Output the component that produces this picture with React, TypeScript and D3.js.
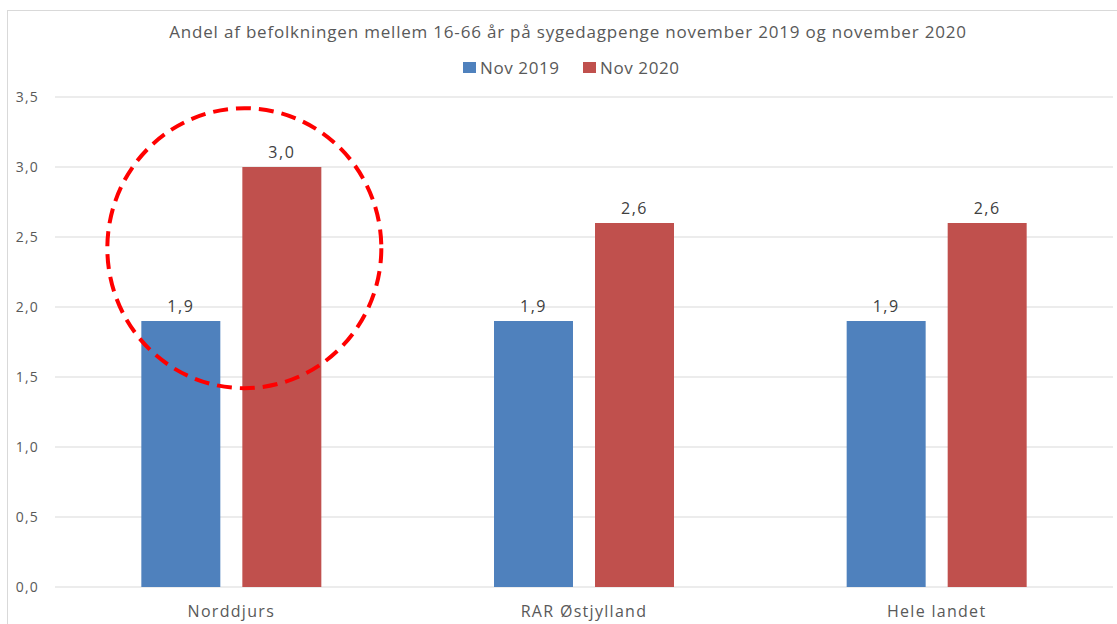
import React from 'react';
import * as d3 from 'd3';

const categories = ['Norddjurs', 'RAR Østjylland', 'Hele landet'];
const seriesNames = ['Nov 2019', 'Nov 2020'];
const nov2019 = [1.9, 1.9, 1.9];
const nov2020 = [3.0, 2.6, 2.6];
const yTicks = [0, 0.5, 1, 1.5, 2, 2.5, 3, 3.5];
const colors = ['#4F81BD', '#C0504D'];
const title = 'Andel af befolkningen mellem 16-66 år på sygedagpenge november 2019 og november 2020';

// highlight ring around Norddjurs, in data units
const ring = { category: 'Norddjurs', value: 2.42, halfSpan: 1.0 };

const W = 1117;
const H = 624;
const font = '"Open Sans", "Noto Sans", sans-serif';

const App = () => {
  const plot = { left: 55, right: 1113, top: 97, bottom: 587 };

  const x0 = d3.scaleBand().domain(categories).range([plot.left, plot.right]).paddingInner(0).paddingOuter(0);
  const x1 = d3.scaleBand().domain(seriesNames).range([-90, 90]).paddingInner(0.218).paddingOuter(0);
  const y = d3.scaleLinear().domain([0, 3.5]).range([plot.bottom, plot.top]);

  const fmt = (v) => d3.format('.1f')(v).replace('.', ',');
  const series = [nov2019, nov2020];

  const ringCx = x0(ring.category) + x0.bandwidth() / 2 + 13;
  const ringCy = y(ring.value);
  const ringRy = y(0) - y(ring.halfSpan);

  return (
    <svg width={W} height={H} style={{ position: 'absolute', left: 0, top: 0, background: '#fff' }}>
      <rect x={7.5} y={10.5} width={W} height={H} fill="#fff" stroke="#d9d9d9" />

      <text x={568} y={38} textAnchor="middle" fontFamily={font} fontSize={17} letterSpacing={0.8} fill="#595959">{title}</text>

      {/* legend */}
      <g fontFamily={font} fontSize={17} letterSpacing={0.6} fill="#595959">
        <rect x={463} y={62} width={13} height={11} fill={colors[0]} />
        <text x={480} y={74}>{seriesNames[0]}</text>
        <rect x={583} y={62} width={13} height={11} fill={colors[1]} />
        <text x={600} y={74}>{seriesNames[1]}</text>
      </g>

      {/* grid + y ticks */}
      {yTicks.map((t) => (
        <g key={t}>
          <line x1={plot.left} x2={plot.right} y1={y(t)} y2={y(t)} stroke="#d9d9d9" strokeWidth={1} />
          <text x={39} y={y(t) + 5} textAnchor="end" fontFamily={font} fontSize={14} letterSpacing={1.2} fill="#595959">{fmt(t)}</text>
        </g>
      ))}

      {/* bars */}
      {categories.map((c, i) => {
        const cx = x0(c) + x0.bandwidth() / 2;
        return (
          <g key={c}>
            {seriesNames.map((s, j) => {
              const v = series[j][i];
              const bx = cx + x1(s);
              return (
                <g key={s}>
                  <rect x={bx} y={y(v)} width={x1.bandwidth()} height={y(0) - y(v)} fill={colors[j]} />
                  <text x={bx + x1.bandwidth() / 2} y={y(v) - 9} textAnchor="middle" fontFamily={font} fontSize={16} letterSpacing={1.5} fill="#404040">{fmt(v)}</text>
                </g>
              );
            })}
            <text x={cx} y={617} textAnchor="middle" fontFamily={font} fontSize={16} letterSpacing={1.3} fill="#595959">{c}</text>
          </g>
        );
      })}

      <ellipse cx={ringCx} cy={ringCy} rx={137} ry={ringRy} fill="none" stroke="#FF0000" strokeWidth={4} strokeDasharray="15 8" />
    </svg>
  );
};

export default App;
